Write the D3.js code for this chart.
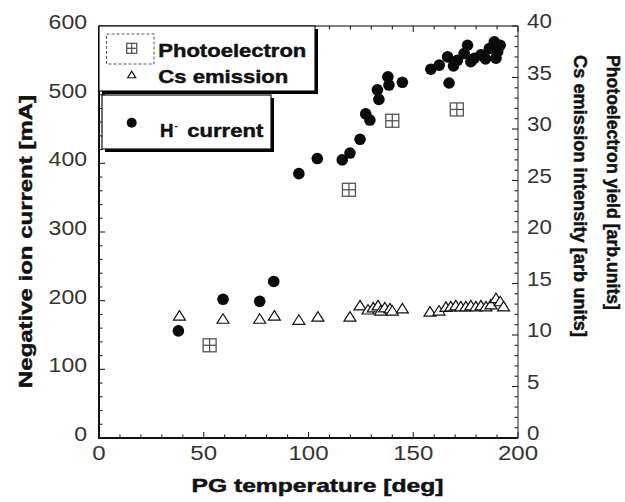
<!DOCTYPE html>
<html>
<head>
<meta charset="utf-8">
<script src="https://cdn.jsdelivr.net/npm/d3@7"></script>
<style>
  body { margin: 0; background: #fff; }
  text { font-family: "Liberation Sans", Arial, Helvetica, sans-serif; }
  .heavy { stroke: #111; stroke-width: 0.45px; }
</style>
</head>
<body>
<svg id="chart" width="625" height="502"></svg>
<script>
// H- beam current versus plasma-grid temperature
const hTemp = [37.9, 59.2, 76.7, 83.4, 95.4, 104.2, 116.1, 119.8, 124.6, 127.3, 129.3,
  132.9, 133.6, 137.9, 138.4, 144.8, 158.4, 162.4, 166.4, 167.1, 169.2, 171.1, 174.3,
  175.9, 177.5, 179.1, 182.3, 184.5, 186.3, 188.7, 190.3, 191.5, 189.5];
const hCurrent = [156, 202, 199, 228, 385, 407, 405, 415, 435, 472, 463,
  507, 493, 526, 514, 518, 537, 543, 555, 517, 542, 550, 560,
  572, 548, 553, 558, 552, 567, 577, 563, 572, 553];

// Photoelectron yield (right axis)
const peTemp = [52.8, 119.3, 140.0, 170.8];
const peYield = [9.0, 24.1, 30.8, 31.9];

// Cs emission intensity (right axis)
const csTemp = [38.4, 59.2, 76.7, 83.7, 95.4, 104.5, 119.8, 124.6, 128.4, 130.9, 133.2,
  134.4, 136.4, 138.9, 140.0, 144.8, 158.0, 162.3, 165.6, 167.9, 170.3, 172.7, 175.1,
  177.5, 179.9, 182.3, 184.7, 187.1, 189.5, 191.5, 193.1];
const csIntensity = [11.9, 11.6, 11.6, 11.9, 11.5, 11.8, 11.8, 12.9, 12.5, 12.7, 12.9,
  12.4, 12.7, 12.6, 12.4, 12.6, 12.3, 12.4, 12.75, 12.8, 12.9, 12.8, 12.8,
  12.9, 12.8, 12.9, 12.8, 13.0, 13.6, 13.3, 12.8];

// Axis ranges and tick labels
const xDomain = [0, 200];
const leftDomain = [0, 600];
const rightDomain = [0, 40];
const xTickLabels = [0, 50, 100, 150, 200];
const leftTickLabels = [0, 100, 200, 300, 400, 500, 600];
const rightTickLabels = [0, 5, 10, 15, 20, 25, 30, 35, 40];

const xTitle = "PG temperature [deg]";
const leftTitle = "Negative ion current [mA]";
const rightTitle1 = "Photoelectron yield [arb.units]";
const rightTitle2 = "Cs emission intensity [arb units]";
const legendPE = "Photoelectron";
const legendCs = "Cs emission";

const svg = d3.select("#chart");
const L = 99, R = 518, T = 26, B = 438;

const x = d3.scaleLinear().domain(xDomain).range([L, R]);
const yL = d3.scaleLinear().domain(leftDomain).range([B, T]);
const yR = d3.scaleLinear().domain(rightDomain).range([B, T]);

const axisColor = "#222";

// frame
svg.append("line").attr("x1", L).attr("x2", R).attr("y1", T).attr("y2", T)
  .attr("stroke", "#555").attr("stroke-width", 1.3);
svg.append("line").attr("x1", R).attr("x2", R).attr("y1", T).attr("y2", B)
  .attr("stroke", "#555").attr("stroke-width", 1.3);
svg.append("line").attr("x1", L).attr("x2", L).attr("y1", T).attr("y2", B + 1)
  .attr("stroke", "#111").attr("stroke-width", 2);
svg.append("line").attr("x1", L - 1).attr("x2", R).attr("y1", B).attr("y2", B)
  .attr("stroke", "#111").attr("stroke-width", 2);

const ticks = svg.append("g").attr("stroke", axisColor).attr("stroke-width", 1.1);

// bottom and top ticks every 10 deg
x.ticks(20).forEach(v => {
  const len = v % 50 === 0 ? 6 : 3.5;
  ticks.append("line").attr("x1", x(v)).attr("x2", x(v)).attr("y1", B).attr("y2", B - len);
  ticks.append("line").attr("x1", x(v)).attr("x2", x(v)).attr("y1", T).attr("y2", T + len);
});
// left ticks every 20 mA
yL.ticks(30).forEach(v => {
  const len = v % 100 === 0 ? 6 : 3.5;
  ticks.append("line").attr("x1", L).attr("x2", L + len).attr("y1", yL(v)).attr("y2", yL(v));
});
// right ticks every 1 unit
yR.ticks(40).forEach(v => {
  const len = v % 5 === 0 ? 6 : 3.5;
  ticks.append("line").attr("x1", R).attr("x2", R - len).attr("y1", yR(v)).attr("y2", yR(v));
});

// tick labels
const tickFont = 20.5;
svg.append("g").selectAll("text").data(xTickLabels).join("text")
  .attr("x", d => x(d)).attr("y", 460)
  .attr("text-anchor", "middle").attr("font-size", tickFont).attr("fill", "#333")
  .attr("textLength", d => String(d).length * 13.4).attr("lengthAdjust", "spacingAndGlyphs")
  .text(d => d);
svg.append("g").selectAll("text").data(leftTickLabels).join("text")
  .attr("x", 87).attr("y", d => yL(d) + 3)
  .attr("text-anchor", "end").attr("font-size", tickFont).attr("fill", "#333")
  .attr("textLength", d => String(d).length * 12.8).attr("lengthAdjust", "spacingAndGlyphs")
  .text(d => d);
svg.append("g").selectAll("text").data(rightTickLabels).join("text")
  .attr("x", 527).attr("y", d => yR(d) + 2)
  .attr("text-anchor", "start").attr("font-size", tickFont).attr("fill", "#333")
  .attr("textLength", d => String(d).length * 12.4).attr("lengthAdjust", "spacingAndGlyphs")
  .text(d => d);

// axis titles
const titleFont = 18.5;
svg.append("text").attr("class", "heavy").attr("x", 317.5).attr("y", 491.5)
  .attr("text-anchor", "middle").attr("font-size", titleFont).attr("font-weight", "bold")
  .attr("fill", "#111").attr("textLength", 252).attr("lengthAdjust", "spacingAndGlyphs")
  .text(xTitle);
svg.append("text").attr("class", "heavy").attr("transform", "translate(32,241.5) rotate(-90)")
  .attr("text-anchor", "middle").attr("font-size", titleFont).attr("font-weight", "bold")
  .attr("fill", "#111").attr("textLength", 293).attr("lengthAdjust", "spacingAndGlyphs")
  .text(leftTitle);
svg.append("text").attr("class", "heavy").attr("transform", "translate(606.5,55) rotate(90)")
  .attr("text-anchor", "start").attr("font-size", titleFont).attr("font-weight", "bold")
  .attr("fill", "#111").attr("textLength", 255).attr("lengthAdjust", "spacingAndGlyphs")
  .text(rightTitle1);
svg.append("text").attr("class", "heavy").attr("transform", "translate(573.5,55) rotate(90)")
  .attr("text-anchor", "start").attr("font-size", titleFont).attr("font-weight", "bold")
  .attr("fill", "#111").attr("textLength", 282).attr("lengthAdjust", "spacingAndGlyphs")
  .text(rightTitle2);

// marker drawing helpers
function triangle(g, cx, cy, w, h) {
  g.append("path")
    .attr("d", `M${cx - w / 2},${cy + h / 2} L${cx + w / 2},${cy + h / 2} L${cx},${cy - h / 2} Z`)
    .attr("fill", "#fff").attr("stroke", "#111").attr("stroke-width", 1.2);
}
function crossSquare(g, cx, cy, s, color) {
  g.append("rect").attr("x", cx - s / 2).attr("y", cy - s / 2).attr("width", s).attr("height", s)
    .attr("fill", "#fff").attr("stroke", color).attr("stroke-width", 1.3);
  g.append("line").attr("x1", cx).attr("x2", cx).attr("y1", cy - s / 2).attr("y2", cy + s / 2)
    .attr("stroke", color).attr("stroke-width", 1.3);
  g.append("line").attr("x1", cx - s / 2).attr("x2", cx + s / 2).attr("y1", cy).attr("y2", cy)
    .attr("stroke", color).attr("stroke-width", 1.3);
}

// Cs emission
const csG = svg.append("g");
csTemp.forEach((t, i) => triangle(csG, x(t), yR(csIntensity[i]), 12, 9.5));

// photoelectron yield
const peG = svg.append("g");
peTemp.forEach((t, i) => crossSquare(peG, x(t), yR(peYield[i]), 13, "#555"));

// H- current
svg.append("g").selectAll("circle").data(hTemp).join("circle")
  .attr("cx", d => x(d)).attr("cy", (d, i) => yL(hCurrent[i])).attr("r", 5.8)
  .attr("fill", "#0a0a0a");

// legend boxes with drop shadow
const lg = svg.append("g");
lg.append("rect").attr("x", 102).attr("y", 29).attr("width", 216).attr("height", 65).attr("fill", "#000");
lg.append("rect").attr("x", 99).attr("y", 26).attr("width", 216).attr("height", 65)
  .attr("fill", "#fff").attr("stroke", "#111").attr("stroke-width", 1.2);
lg.append("rect").attr("x", 105).attr("y", 98).attr("width", 169).attr("height", 54).attr("fill", "#000");
lg.append("rect").attr("x", 102).attr("y", 95).attr("width", 169).attr("height", 54)
  .attr("fill", "#fff").attr("stroke", "#111").attr("stroke-width", 1.2);

lg.append("rect").attr("x", 106.5).attr("y", 34).attr("width", 47.5).attr("height", 30)
  .attr("fill", "none").attr("stroke", "#555").attr("stroke-width", 1).attr("stroke-dasharray", "3,2");
crossSquare(lg, 131.7, 48.3, 10, "#555");
triangle(lg, 131.7, 74.5, 8, 6.5);
lg.append("circle").attr("cx", 131.7).attr("cy", 122.7).attr("r", 5).attr("fill", "#0a0a0a");

const legText = { size: 18.5, weight: "bold", fill: "#111" };
lg.append("text").attr("class", "heavy").attr("x", 158.3).attr("y", 56.7)
  .attr("font-size", legText.size).attr("font-weight", legText.weight).attr("fill", legText.fill)
  .attr("textLength", 148).attr("lengthAdjust", "spacingAndGlyphs").text(legendPE);
lg.append("text").attr("class", "heavy").attr("x", 158.3).attr("y", 82.7)
  .attr("font-size", legText.size).attr("font-weight", legText.weight).attr("fill", legText.fill)
  .attr("textLength", 130).attr("lengthAdjust", "spacingAndGlyphs").text(legendCs);
lg.append("text").attr("class", "heavy").attr("x", 160).attr("y", 137.3)
  .attr("font-size", legText.size).attr("font-weight", legText.weight).attr("fill", legText.fill)
  .attr("textLength", 13.5).attr("lengthAdjust", "spacingAndGlyphs").text("H");
lg.append("text").attr("x", 174.5).attr("y", 129)
  .attr("font-size", 10).attr("font-weight", legText.weight).attr("fill", legText.fill)
  .text("-");
lg.append("text").attr("class", "heavy").attr("x", 187.3).attr("y", 137.3)
  .attr("font-size", legText.size).attr("font-weight", legText.weight).attr("fill", legText.fill)
  .attr("textLength", 76).attr("lengthAdjust", "spacingAndGlyphs").text("current");
</script>
</body>
</html>
